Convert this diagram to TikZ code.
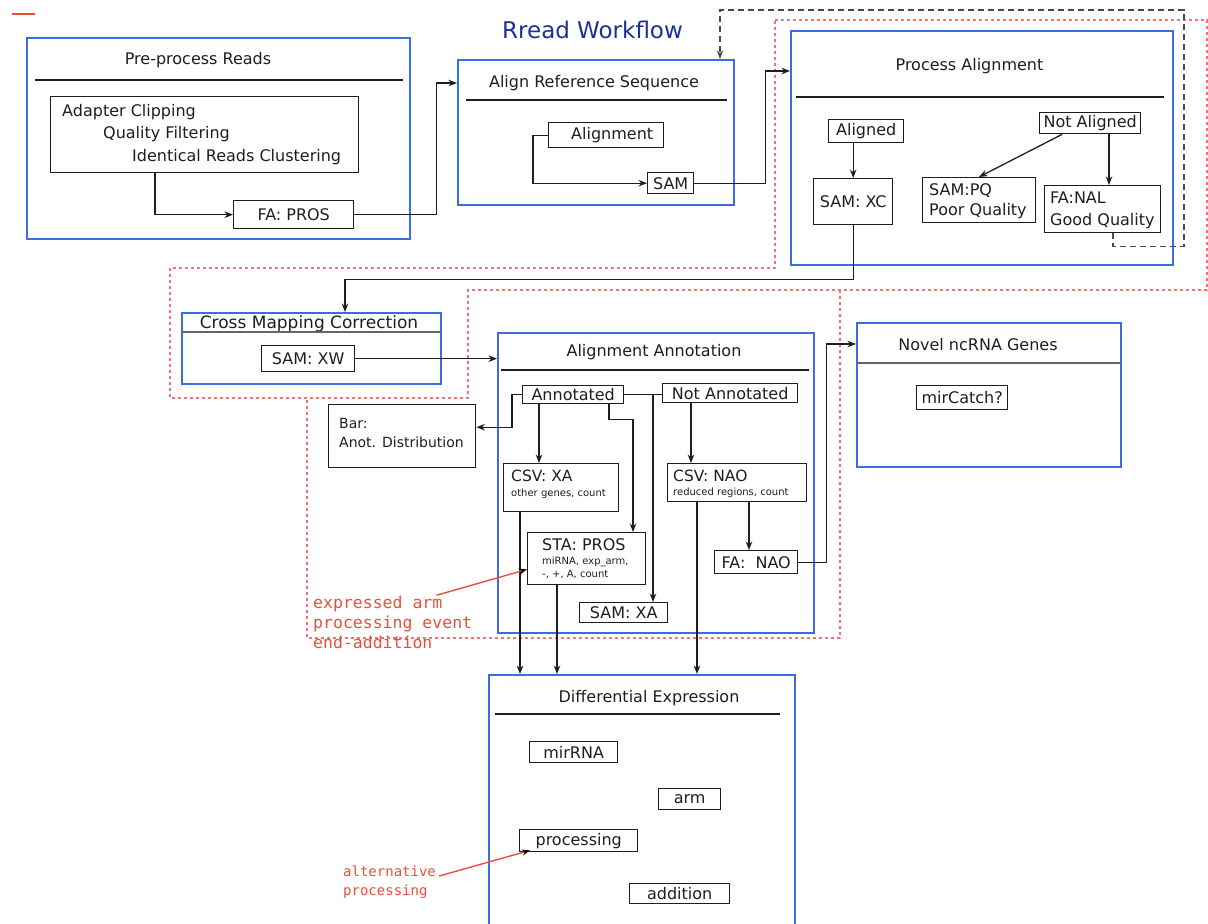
\documentclass[tikz,border=0pt]{standalone}
\usepackage{fontspec}
\setmainfont{DejaVu Sans}
\newfontfamily\handfont{DejaVu Sans Mono}
\usetikzlibrary{arrows.meta,calc}
\definecolor{boxblue}{RGB}{59,108,230}
\definecolor{titleblue}{RGB}{28,48,150}
\definecolor{annred}{RGB}{232,80,58}
\definecolor{dotred}{RGB}{232,118,118}
\definecolor{loopgray}{RGB}{75,75,75}
\definecolor{ink}{RGB}{30,30,30}
\tikzset{
 container/.style={draw=boxblue, line width=1.7pt, rectangle, inner sep=0pt, anchor=north west},
 bx/.style={draw=ink, line width=1.4pt, rectangle, inner sep=0pt, anchor=north west, text=ink, font=\fontsize{16}{19}\selectfont},
 ttl/.style={anchor=base, inner sep=0pt, text=ink, font=\fontsize{16}{19}\selectfont},
 txt/.style={anchor=base west, inner sep=0pt, text=ink, font=\fontsize{16}{19}\selectfont},
 smalltxt/.style={anchor=base west, inner sep=0pt, text=ink, font=\fontsize{10}{12}\selectfont},
 sepline/.style={draw=ink, line width=1.6pt},
 arr/.style={draw=ink, line width=1.3pt, -{Stealth[length=8.5pt,width=6.5pt]}},
 conn/.style={draw=ink, line width=1.3pt},
 backloop/.style={draw=loopgray, line width=1.6pt, dash pattern=on 6pt off 4pt, -{Stealth[length=8.5pt,width=6.5pt]}},
 region/.style={draw=dotred, line width=1.6pt, dash pattern=on 3pt off 3pt},
 hand/.style={anchor=base west, inner sep=0pt, text=annred, font=\handfont\fontsize{16.5}{20}\selectfont},
 handsmall/.style={anchor=base west, inner sep=0pt, text=annred, font=\handfont\fontsize{14}{18}\selectfont},
 handline/.style={draw=annred, line width=1.4pt, -{Stealth[length=8pt,width=6pt,black]}},
}
\begin{document}
\begin{tikzpicture}[x=1pt,y=-1pt]
\useasboundingbox (0,0) rectangle (1208,924);

% red mark and title
\draw[annred, line width=2.2pt] (12,14) -- (35,14);
\node[anchor=base, inner sep=0pt, text=titleblue, font=\fontsize{23}{27}\selectfont] (title) at (592.5,38) {Rread Workflow};

% dotted regions
\draw[region] (775,20) -- (1207,20) -- (1207,290) -- (468,290) -- (468,398) -- (170,398) -- (170,268) -- (775,268) -- cycle;
\draw[region] (840,290) -- (840,638) -- (307,638) -- (307,398);

% Pre-process Reads
\node[container, minimum width=383pt, minimum height=201pt] (pre) at (26,37) {};
\node[ttl] (pretitle) at (198,64) {Pre-process Reads};
\draw[sepline] (35,80) -- (403,80);
\node[bx, minimum width=308pt, minimum height=76pt] (clip) at (50,96) {};
\node[txt] (clip1) at (62,116) {Adapter Clipping};
\node[txt] (clip2) at (103,138) {Quality Filtering};
\node[txt] (clip3) at (132,161) {Identical Reads Clustering};
\node[bx, minimum width=120pt, minimum height=28pt] (fapros) at (233,200) {FA: PROS};

% Align Reference Sequence
\node[container, minimum width=276pt, minimum height=145pt] (align) at (457,59) {};
\node[ttl] (aligntitle) at (594,87) {Align Reference Sequence};
\draw[sepline] (466,100) -- (727,100);
\node[bx, minimum width=115pt, minimum height=25pt] (alignment) at (548,122) {\hspace{12pt}Alignment};
\node[bx, minimum width=46pt, minimum height=21pt] (sam) at (647,172) {SAM};

% Process Alignment
\node[container, minimum width=382pt, minimum height=234pt] (palign) at (790,30) {};
\node[ttl] (paligntitle) at (969.5,70) {Process Alignment};
\draw[sepline] (796,97) -- (1164,97);
\node[bx, minimum width=75pt, minimum height=23pt] (aligned) at (828,119) {Aligned};
\node[bx, minimum width=79pt, minimum height=46pt] (samxc) at (813,178) {SAM: XC};
\node[bx, minimum width=101pt, minimum height=21pt] (notaligned) at (1039,112) {Not Aligned};
\node[bx, minimum width=113pt, minimum height=45pt] (sampq) at (922,177) {};
\node[txt] (sampq1) at (929,195) {SAM:PQ};
\node[txt] (sampq2) at (929,215) {Poor Quality};
\node[bx, minimum width=116pt, minimum height=47pt] (fanal) at (1044,185) {};
\node[txt] (fanal1) at (1050,203) {FA:NAL};
\node[txt] (fanal2) at (1050,225) {Good Quality};

% Cross Mapping Correction
\node[container, minimum width=259pt, minimum height=71pt] (cmc) at (181,312) {};
\node[ttl, font=\fontsize{17}{20}\selectfont] (cmctitle) at (309,328) {Cross Mapping Correction};
\draw[draw=black!60, line width=1.3pt] (181,332) -- (440,332);
\node[bx, minimum width=93pt, minimum height=26pt] (samxw) at (261,345) {SAM: XW};

% Alignment Annotation
\node[container, minimum width=316pt, minimum height=300pt] (annot) at (497,332) {};
\node[ttl] (annottitle) at (654,356) {Alignment Annotation};
\draw[sepline] (501,370) -- (809,370);
\node[bx, minimum width=101pt, minimum height=18pt] (annotated) at (522,385) {Annotated};
\node[bx, minimum width=135pt, minimum height=19pt] (notann) at (662,383) {Not Annotated};
\node[bx, minimum width=147pt, minimum height=63pt] (bar) at (328,404) {};
\node[txt, font=\fontsize{14}{17}\selectfont] (bar1) at (339,428) {Bar:};
\node[txt, font=\fontsize{14}{17}\selectfont] (bar2) at (339,447) {Anot. Distribution};
\node[bx, minimum width=115pt, minimum height=48pt] (csvxa) at (503,463) {};
\node[txt, font=\fontsize{15.5}{18}\selectfont] (csvxa1) at (511,481) {CSV: XA};
\node[smalltxt] (csvxa2) at (511,496) {other genes, count};
\node[bx, minimum width=118pt, minimum height=52pt] (stapros) at (527,532) {};
\node[txt] (stapros1) at (542,550) {STA: PROS};
\node[smalltxt] (stapros2) at (542,564) {miRNA, exp\_arm,};
\node[smalltxt] (stapros3) at (542,577) {-, +, A, count};
\node[bx, minimum width=88pt, minimum height=20pt] (samxa) at (579,602) {SAM: XA};
\node[bx, minimum width=139pt, minimum height=38pt] (csvnao) at (667,463) {};
\node[txt, font=\fontsize{15.5}{18}\selectfont] (csvnao1) at (673,481) {CSV: NAO};
\node[smalltxt] (csvnao2) at (673,495) {reduced regions, count};
\node[bx, minimum width=83pt, minimum height=23pt] (fanao) at (714,550) {FA:~~NAO};

% Novel ncRNA Genes
\node[container, minimum width=264pt, minimum height=144pt] (novel) at (856,322) {};
\node[ttl] (noveltitle) at (978,350) {Novel ncRNA Genes};
\draw[draw=black!60, line width=1.3pt] (856,363) -- (1120,363);
\node[bx, minimum width=91pt, minimum height=24pt] (mircatch) at (916,385) {mirCatch?};

% Differential Expression
\node[container, minimum width=306pt, minimum height=270pt] (diff) at (488,674) {};
\node[ttl] (difftitle) at (649,702) {Differential Expression};
\draw[sepline] (495,714) -- (780,714);
\node[bx, minimum width=88pt, minimum height=21pt] (mirrna) at (529,741) {mirRNA\hspace{18pt}};
\node[bx, minimum width=62pt, minimum height=21pt] (arm) at (658,788) {arm};
\node[bx, minimum width=118pt, minimum height=22pt] (proc) at (519,829) {processing};
\node[bx, minimum width=100pt, minimum height=20pt] (addition) at (629,883) {addition};

% annotations
\node[hand] (ann1) at (313,608) {expressed arm};
\node[hand] (ann2) at (313,628) {processing event};
\node[hand] (ann3) at (313,648) {end-addition};
\node[handsmall] (alt1) at (343,876) {alternative};
\node[handsmall] (alt2) at (343,895) {processing};

% helper coordinates
\coordinate (cmcin) at ([xshift=164pt]cmc.north west);
\coordinate (na1) at ([xshift=23pt]notaligned.south west);
\coordinate (pqin) at ([xshift=57pt]sampq.north west);
\coordinate (fanalin) at ([xshift=65pt]fanal.north west);
\coordinate (fb) at ([xshift=69pt]fanal.south west);
\coordinate (loopR) at (1184,10);
\coordinate (atop) at ([xshift=263pt]align.north west);
\coordinate (sxin) at ([xshift=74pt]samxa.north west);
\coordinate (cxain) at ([xshift=36pt]csvxa.north west);
\coordinate (aout2) at ([xshift=87pt]annotated.south west);
\coordinate (stain) at ([xshift=106pt]stapros.north west);
\coordinate (cnain) at ([xshift=24pt]csvnao.north west);
\coordinate (fnin) at ([xshift=35pt]fanao.north west);
\coordinate (d1) at ([xshift=17pt]csvxa.south west);
\coordinate (d2) at ([xshift=30pt]stapros.south west);
\coordinate (d3) at ([xshift=30pt]csvnao.south west);

% connectors
\draw[arr] ([xshift=105pt]clip.south west) |- (fapros.west);
\draw[arr] (fapros.east) -- ++(82,0) |- ([yshift=-24pt]align.north west);
\draw[arr] (alignment.west) -- ++(-15,0) |- (sam.west);
\draw[arr] (sam.east) -- ++(71,0) |- ([yshift=-41pt]palign.north west);
\draw[arr] (samxc.north |- aligned.south) -- (samxc.north);
\draw[arr] (na1) -- (pqin);
\draw[arr] (fanalin |- notaligned.south) -- (fanalin);
\draw[backloop] (fb) -- ++(0,13) -| (loopR) -| (atop);
\draw[arr] (samxc.south) -- ++(0,54) -| (cmcin);
\draw[arr] (samxw.east) -- (samxw.east -| annot.west);
\draw[conn] (annotated.east) -- (annotated.east -| notann.west);
\draw[arr] (annotated.west) -- ++(-10,0) |- ([yshift=9pt]bar.east);
\draw[arr] (sxin |- annotated.east) -- (sxin);
\draw[arr] (cxain |- annotated.south) -- (cxain);
\draw[arr] (aout2) -- ++(0,15) -| (stain);
\draw[arr] (cnain |- notann.south) -- (cnain);
\draw[arr] (fnin |- csvnao.south) -- (fnin);
\draw[arr] (fanao.east) -- ++(28,0) |- ([yshift=-22pt]novel.north west);
\draw[arr] (d1) -- (d1 |- diff.north);
\draw[arr] (d2) -- (d2 |- diff.north);
\draw[arr] (d3) -- (d3 |- diff.north);
\draw[handline] ([xshift=-6pt]ann1.north east) -- ([yshift=16pt]stapros.south west);
\draw[handline] ([xshift=3pt]alt1.base east) -- ([shift={(11pt,2pt)}]proc.south west);
\end{tikzpicture}
\end{document}
